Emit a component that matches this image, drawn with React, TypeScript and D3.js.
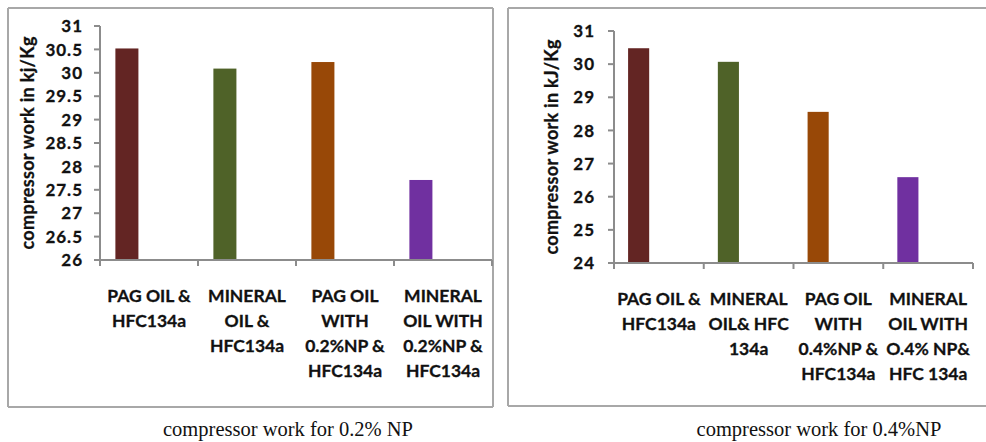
import React from "react";
import * as d3 from "d3";

const leftCategories: string[][] = [
  ["PAG OIL &", "HFC134a"],
  ["MINERAL", "OIL &", "HFC134a"],
  ["PAG OIL", "WITH", "0.2%NP &", "HFC134a"],
  ["MINERAL", "OIL WITH", "0.2%NP &", "HFC134a"],
];
const leftValues: number[] = [30.52, 30.09, 30.23, 27.71];
const leftTicks: number[] = [26, 26.5, 27, 27.5, 28, 28.5, 29, 29.5, 30, 30.5, 31];
const leftTitle = "compressor work in kj/Kg";
const leftCaption = "compressor work for 0.2% NP";

const rightCategories: string[][] = [
  ["PAG OIL &", "HFC134a"],
  ["MINERAL", "OIL& HFC", "134a"],
  ["PAG OIL", "WITH", "0.4%NP &", "HFC134a"],
  ["MINERAL", "OIL WITH", "O.4% NP&", "HFC 134a"],
];
const rightValues: number[] = [30.48, 30.07, 28.56, 26.59];
const rightTicks: number[] = [24, 25, 26, 27, 28, 29, 30, 31];
const rightTitle = "compressor work in kJ/Kg";
const rightCaption = "compressor work for 0.4%NP";

const barColors: string[] = ["#632523", "#4F6228", "#984807", "#7030A0"];

const FONT = "Lato, 'Open Sans', sans-serif";

type PanelProps = {
  frame: { x: number; y: number; w: number; h: number; rightBorder: boolean };
  plot: { x0: number; x1: number; y0: number; y1: number };
  categories: string[][];
  values: number[];
  ticks: number[];
  title: string;
  titleX: number;
  titleY: number;
  titleLen: number;
  caption: string;
  captionX: number;
  labelBase: number;
  tickGap: number;
};

function Panel(p: PanelProps) {
  const ids = p.categories.map((_, i) => String(i));
  const x = d3.scaleBand<string>().domain(ids).range([p.plot.x0, p.plot.x1]).padding(0);
  const y = d3
    .scaleLinear()
    .domain([d3.min(p.ticks)!, d3.max(p.ticks)!])
    .range([p.plot.y1, p.plot.y0]);
  const bw = x.bandwidth();
  const axisColor = "#8c8c8c";
  const frameColor = "#a8a8a8";
  const fmt = (v: number) => String(v);
  const { frame } = p;
  return (
    <g>
      <line x1={frame.x} x2={frame.x + frame.w} y1={frame.y} y2={frame.y} stroke={frameColor} strokeWidth={2} />
      <line x1={frame.x} x2={frame.x + frame.w} y1={frame.y + frame.h} y2={frame.y + frame.h} stroke={frameColor} strokeWidth={2} />
      <line x1={frame.x} x2={frame.x} y1={frame.y} y2={frame.y + frame.h} stroke={frameColor} strokeWidth={2} />
      {frame.rightBorder && (
        <line x1={frame.x + frame.w} x2={frame.x + frame.w} y1={frame.y} y2={frame.y + frame.h} stroke={frameColor} strokeWidth={2} />
      )}
      {p.values.map((v, i) => (
        <rect
          key={i}
          x={x(String(i))! + bw * 0.157}
          width={bw * 0.235}
          y={y(v)}
          height={y.range()[0] - y(v)}
          fill={barColors[i]}
        />
      ))}
      <line x1={p.plot.x0} x2={p.plot.x0} y1={p.plot.y0} y2={p.plot.y1 + 1} stroke={axisColor} strokeWidth={2} />
      {p.ticks.map((t) => (
        <g key={t}>
          <line x1={p.plot.x0 - 6} x2={p.plot.x0} y1={y(t)} y2={y(t)} stroke={axisColor} strokeWidth={2} />
          <text
            x={p.plot.x0 - p.tickGap}
            y={y(t)}
            dy="0.36em"
            textAnchor="end"
            fontFamily={FONT}
            fontWeight={700}
            fontSize={17}
            letterSpacing={1}
            fill="#111"
            stroke="#111"
            strokeWidth={0.3}
          >
            {fmt(t)}
          </text>
        </g>
      ))}
      <line x1={p.plot.x0 - 6} x2={p.plot.x1} y1={p.plot.y1} y2={p.plot.y1} stroke={axisColor} strokeWidth={2} />
      {[...ids.map((id) => x(id)!), p.plot.x1].map((tx, i) => (
        <line key={i} x1={tx} x2={tx} y1={p.plot.y1} y2={p.plot.y1 + 6} stroke={axisColor} strokeWidth={2} />
      ))}
      {p.categories.map((lines, i) => (
        <text
          key={i}
          x={x(String(i))! + bw / 2}
          textAnchor="middle"
          fontFamily={FONT}
          fontWeight={700}
          fontSize={17.5}
          fill="#111"
          stroke="#111"
          strokeWidth={0.3}
        >
          {lines.map((l, j) => (
            <tspan key={j} x={x(String(i))! + bw / 2} y={p.labelBase + j * 25}>
              {l}
            </tspan>
          ))}
        </text>
      ))}
      <text
        transform={`translate(${p.titleX},${p.titleY}) rotate(-90)`}
        textAnchor="middle"
        dy="0.35em"
        fontFamily={FONT}
        fontWeight={700}
        fontSize={18}
        textLength={p.titleLen}
        lengthAdjust="spacing"
        fill="#111"
        stroke="#111"
        strokeWidth={0.3}
      >
        {p.title}
      </text>
      <text
        x={p.captionX}
        y={436}
        textAnchor="middle"
        fontFamily="'Liberation Serif', 'Times New Roman', serif"
        fontSize={20.5}
        fill="#111"
      >
        {p.caption}
      </text>
    </g>
  );
}

export default function App() {
  return (
    <svg
      width={986}
      height={442}
      style={{ position: "absolute", left: 0, top: 0, background: "#fff" }}
    >
      <rect x={0} y={0} width={986} height={442} fill="#fff" />
      <Panel
        frame={{ x: 8, y: 8, w: 485, h: 399, rightBorder: true }}
        plot={{ x0: 100, x1: 492, y0: 26, y1: 260 }}
        categories={leftCategories}
        values={leftValues}
        ticks={leftTicks}
        title={leftTitle}
        titleX={28}
        titleY={143}
        titleLen={213}
        caption={leftCaption}
        captionX={288}
        labelBase={302}
        tickGap={17}
      />
      <Panel
        frame={{ x: 508, y: 8, w: 480, h: 398, rightBorder: false }}
        plot={{ x0: 614, x1: 973, y0: 31, y1: 263 }}
        categories={rightCategories}
        values={rightValues}
        ticks={rightTicks}
        title={rightTitle}
        titleX={552}
        titleY={147}
        titleLen={215}
        caption={rightCaption}
        captionX={819}
        labelBase={305}
        tickGap={19}
      />
    </svg>
  );
}
